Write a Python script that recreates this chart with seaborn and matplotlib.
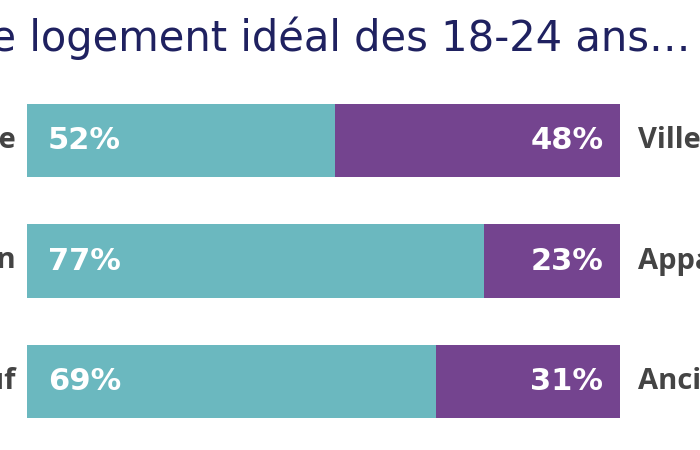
import pandas as pd
import seaborn as sns
import matplotlib.pyplot as plt

# Data
left_labels = ["Campagne", "Maison", "Neuf"]
right_labels = ["Ville", "Appartement", "Ancien"]
left_share = [52, 77, 69]
right_share = [48, 23, 31]

teal = "#6bb8bf"
purple = "#74448f"
navy = "#1f2160"
grey = "#444444"

df = pd.DataFrame({"cat": left_labels, "left": left_share, "right": right_share})
df["total"] = df["left"] + df["right"]

sns.set_theme(style="white")
plt.rcParams["font.family"] = ["Open Sans", "DejaVu Sans"]
wide = ["DejaVu Sans"]

fig = plt.figure(figsize=(7, 4.5), dpi=100)
ax = fig.add_axes([27 / 700, 1 - 441.75 / 450, 593 / 700, 361.5 / 450])

# stacked bars: full width in purple, left share in teal on top
sns.barplot(data=df, x="total", y="cat", orient="h", color=purple,
            width=0.61, saturation=1, linewidth=0, ax=ax)
sns.barplot(data=df, x="left", y="cat", orient="h", color=teal,
            width=0.61, saturation=1, linewidth=0, ax=ax)

ax.set_xlim(0, 100)
ax.set_ylim(2.5, -0.5)
ax.set_xlabel("")
ax.set_ylabel("")
ax.set_xticks([])
ax.set_yticks([])
sns.despine(ax=ax, left=True, bottom=True)

for i, row in df.iterrows():
    ax.annotate(f"{row['left']}%", (0, i), xytext=(15, 0), textcoords="offset points",
                ha="left", va="center", color="white", fontsize=22,
                fontweight="bold", family=wide)
    ax.annotate(f"{row['right']}%", (row["total"], i), xytext=(-12, 0),
                textcoords="offset points", ha="right", va="center",
                color="white", fontsize=22, fontweight="bold", family=wide)
    ax.annotate(row["cat"], (0, i), xytext=(-8, 0), textcoords="offset points",
                ha="right", va="center", color=grey, fontsize=21,
                fontweight="bold", annotation_clip=False)
    ax.annotate(right_labels[i], (100, i), xytext=(13, 0), textcoords="offset points",
                ha="left", va="center", color=grey, fontsize=21,
                fontweight="bold", annotation_clip=False)

fig.text(691 / 700, 1 - 38 / 450, "Le logement idéal des 18-24 ans…",
         ha="right", va="center", color=navy, fontsize=30, family=wide)

fig.savefig("out.png", dpi=100)
plt.close(fig)
